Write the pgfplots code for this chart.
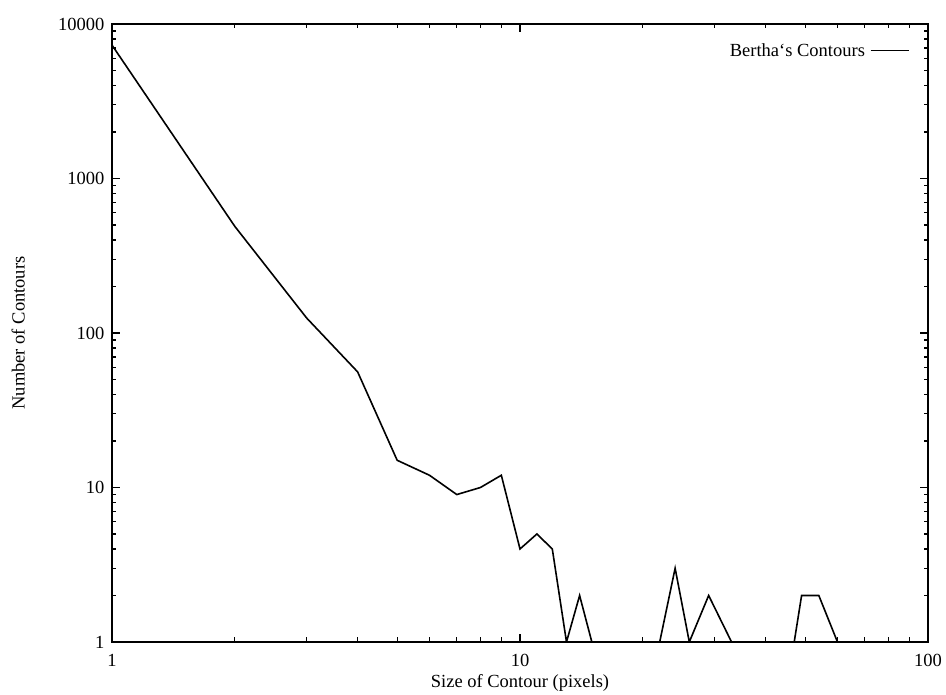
\documentclass[border=0pt]{standalone}
\usepackage{pgfplots}
\pgfplotsset{compat=1.18}
\usepackage{fontspec}
\setmainfont{Liberation Serif}
\begin{document}
\begin{tikzpicture}
\begin{axis}[
  at={(0,0)}, anchor=south west,
  scale only axis, width=816pt, height=618pt,
  xmode=log, ymode=log,
  xmin=1, xmax=100, ymin=1, ymax=10000,
  xtick={1,10,100}, xticklabels={1,10,100},
  ytick={1,10,100,1000,10000}, yticklabels={1,10,100,1000,10000},
  minor xtick={2,3,4,5,6,7,8,9,20,30,40,50,60,70,80,90},
  minor ytick={2,3,4,5,6,7,8,9,20,30,40,50,60,70,80,90,200,300,400,500,600,700,800,900,2000,3000,4000,5000,6000,7000,8000,9000},
  tick align=inside, tick pos=both,
  major tick length=8pt, minor tick length=4.5pt,
  every tick/.style={black, line width=1.2pt},
  axis line style={line width=1.8pt},
  /pgf/number format/assume math mode=true,
  tick label style={font=\fontsize{18.5}{21}\selectfont},
  xticklabel style={yshift=-9pt},
  yticklabel style={xshift=-4pt},
  label style={font=\fontsize{18.5}{21}\selectfont},
  xlabel={Size of Contour (pixels)},
  ylabel={Number of Contours},
  xlabel style={at={(axis description cs:0.5,-0.066)}, anchor=center},
  ylabel style={at={(axis description cs:-0.115,0.5)}, anchor=center},
  legend plot pos=right,
  legend style={draw=none, fill=none, font=\fontsize{18.5}{21}\selectfont,
    at={(rel axis cs:0.981,0.975)}, anchor=north east,
    nodes={inner xsep=5pt}},
  legend image code/.code={\draw[#1, line width=1.3pt] (0pt,0pt) -- (38pt,0pt);},
  legend cell align=right,
]
\addplot[black, line width=1.6pt, line join=miter] coordinates {
(1,7300)(2,490)(3,125)(4,56)(5,15)(6,12)(7,9)(8,10)(9,12)(10,4)(11,5)(12,4)(13,1)(14,2)(15,1)(22,1)(24,3)(26,1)(29,2)(33,1)(47,1)(49,2)(54,2)(60,1)
};
\addlegendentry{Bertha‘s Contours}
\end{axis}
\path (-112pt,-51pt) rectangle (834pt,642pt);
\end{tikzpicture}
\end{document}
